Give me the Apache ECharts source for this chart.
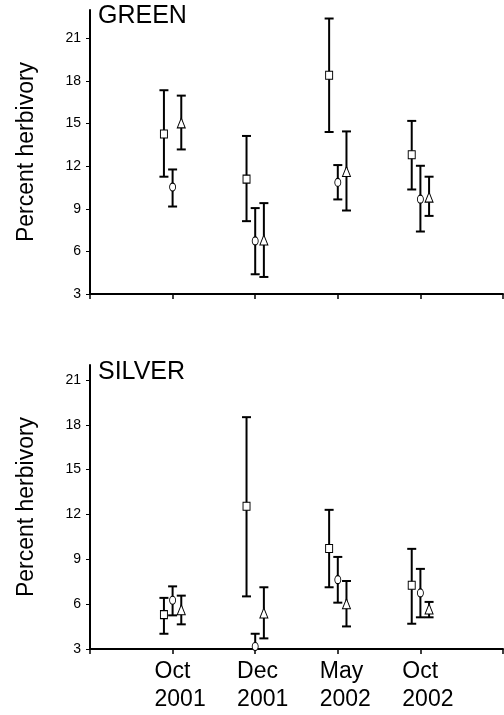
<!DOCTYPE html>
<html>
<head>
<meta charset="utf-8">
<script src="https://cdn.jsdelivr.net/npm/echarts@6/dist/echarts.min.js"></script>
<style>
html,body{margin:0;padding:0;background:#fff;}
#chart{width:504px;height:715px;}
</style>
</head>
<body>
<div id="chart"></div>
<script>
// ---- data ----
const monthLabels = ['Oct', 'Dec', 'May', 'Oct'];
const yearLabels = ['2001', '2001', '2002', '2002'];
const yTicks = [3, 6, 9, 12, 15, 18, 21];
const panelNames = ['GREEN', 'SILVER'];

// GREEN panel
const greenSquareMean = [14.27, 11.09, 18.41, 12.81];
const greenSquareLow  = [11.26, 8.13, 14.41, 10.36];
const greenSquareHigh = [17.35, 14.13, 22.40, 15.19];
const greenCircleMean = [10.53, 6.74, 10.86, 9.68];
const greenCircleLow  = [9.16, 4.39, 9.66, 7.40];
const greenCircleHigh = [11.77, 9.05, 12.08, 12.03];
const greenTriMean = [15.05, 6.80, 11.63, 9.82];
const greenTriLow  = [13.18, 4.20, 8.88, 8.50];
const greenTriHigh = [16.97, 9.40, 14.45, 11.26];

// SILVER panel
const silverSquareMean = [5.30, 12.55, 9.72, 7.26];
const silverSquareLow  = [4.02, 6.52, 7.13, 4.69];
const silverSquareHigh = [6.42, 18.51, 12.31, 9.70];
const silverCircleMean = [6.26, 3.17, 7.64, 6.75];
const silverCircleLow  = [5.25, 3.00, 6.10, 5.12];
const silverCircleHigh = [7.19, 4.02, 9.16, 8.36];
const silverTriMean = [5.63, 5.41, 6.03, 5.68];
const silverTriLow  = [4.65, 3.71, 4.51, 5.12];
const silverTriHigh = [6.57, 7.13, 7.55, 6.15];

// ---- build ----
const FONT = 'Liberation Sans, Arial, sans-serif';
const offsets = [-0.105, 0, 0.105];
const symbols = [
  {symbol: 'rect', size: [7, 8]},
  {symbol: 'circle', size: [6, 8]},
  {symbol: 'triangle', size: [8, 10]}
];

const panels = [
  {max: 23, groups: [
    [greenSquareMean, greenSquareLow, greenSquareHigh],
    [greenCircleMean, greenCircleLow, greenCircleHigh],
    [greenTriMean, greenTriLow, greenTriHigh]
  ]},
  {max: 22, groups: [
    [silverSquareMean, silverSquareLow, silverSquareHigh],
    [silverCircleMean, silverCircleLow, silverCircleHigh],
    [silverTriMean, silverTriLow, silverTriHigh]
  ]}
];

function errRender(params, api) {
  const x = api.value(0), lo = api.value(1), hi = api.value(2);
  const a = api.coord([x, lo]), b = api.coord([x, hi]);
  const hw = 4.5;
  const st = {stroke: '#000', lineWidth: 2};
  return {type: 'group', children: [
    {type: 'line', shape: {x1: a[0], y1: a[1], x2: b[0], y2: b[1]}, style: st},
    {type: 'line', shape: {x1: a[0] - hw, y1: a[1], x2: a[0] + hw, y2: a[1]}, style: st},
    {type: 'line', shape: {x1: b[0] - hw, y1: b[1], x2: b[0] + hw, y2: b[1]}, style: st}
  ]};
}

const grids = [
  {left: 90, top: 10, width: 413, height: 284},
  {left: 90, top: 365, width: 413, height: 284}
];

const xAxes = [], yAxes = [], series = [];
panels.forEach((p, gi) => {
  xAxes.push({
    gridIndex: gi, type: 'value', min: 0, max: 5, interval: 1,
    splitLine: {show: false},
    axisLine: {show: true, onZero: false, lineStyle: {color: '#000', width: 2}},
    axisTick: {show: true, length: 5, lineStyle: {color: '#000', width: 1.5}},
    axisLabel: gi === 0 ? {show: false} : {
      show: true,
      customValues: [1, 2, 3, 4],
      margin: 9,
      align: 'center',
      padding: [0, 0, 0, 15],
      formatter: v => '{a|' + monthLabels[v - 1] + '}\n{a|' + yearLabels[v - 1] + '}',
      rich: {a: {align: 'left', fontSize: 23, lineHeight: 28, fontFamily: FONT, color: '#000'}}
    }
  });
  yAxes.push({
    gridIndex: gi, type: 'value', min: 3, max: p.max, interval: 3,
    splitLine: {show: false},
    name: 'Percent herbivory', nameLocation: 'middle', nameGap: 52,
    nameTextStyle: {fontSize: 23, fontFamily: FONT, color: '#000'},
    axisLine: {show: true, onZero: false, lineStyle: {color: '#000', width: 2}},
    axisTick: {show: true, length: 4, customValues: yTicks, lineStyle: {color: '#000', width: 1}},
    axisLabel: {show: true, customValues: yTicks, margin: 9, fontSize: 14, fontFamily: FONT, color: '#000'}
  });
  p.groups.forEach((g, si) => {
    const [mean, low, high] = g;
    series.push({
      type: 'custom', xAxisIndex: gi, yAxisIndex: gi, renderItem: errRender,
      data: mean.map((m, i) => [i + 1 + offsets[si], low[i], high[i]]),
      silent: true, z: 2
    });
  });
  p.groups.forEach((g, si) => {
    const [mean] = g;
    series.push({
      type: 'scatter', xAxisIndex: gi, yAxisIndex: gi,
      symbol: symbols[si].symbol, symbolSize: symbols[si].size,
      itemStyle: {color: '#fff', borderColor: '#000', borderWidth: 1, opacity: 1},
      data: mean.map((m, i) => [i + 1 + offsets[si], m]),
      silent: true, z: 3
    });
  });
});

const chart = echarts.init(document.getElementById('chart'), null, {renderer: 'canvas'});
chart.setOption({
  animation: false,
  backgroundColor: '#fff',
  title: [
    {text: panelNames[0], left: 98, top: 4, padding: 0, textStyle: {fontSize: 25, fontWeight: 'normal', fontFamily: FONT, color: '#000'}},
    {text: panelNames[1], left: 98, top: 360, padding: 0, textStyle: {fontSize: 25, fontWeight: 'normal', fontFamily: FONT, color: '#000'}}
  ],
  grid: grids,
  xAxis: xAxes,
  yAxis: yAxes,
  series: series
});
</script>
</body>
</html>
